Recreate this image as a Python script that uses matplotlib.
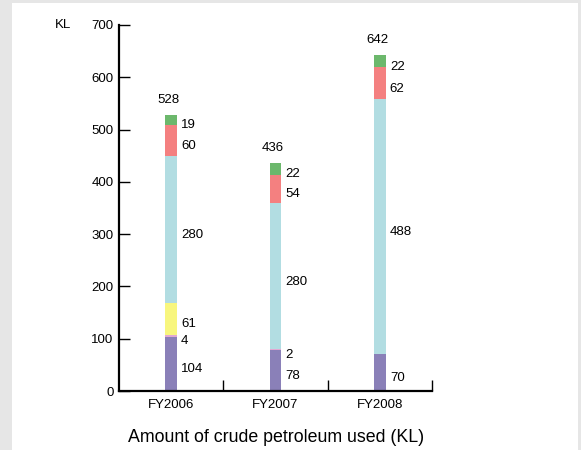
import numpy as np
import matplotlib.pyplot as plt
from matplotlib.patches import Rectangle

plt.rcParams['font.family'] = ['Liberation Sans', 'DejaVu Sans']

years = ['FY2006', 'FY2007', 'FY2008']
totals = [528, 436, 642]
# segments from bottom to top
seg_purple = [104, 78, 70]
seg_pink = [4, 2, 0]
seg_yellow = [61, 0, 0]
seg_blue = [280, 280, 488]
seg_red = [60, 54, 62]
seg_green = [19, 22, 22]

segments = [seg_purple, seg_pink, seg_yellow, seg_blue, seg_red, seg_green]
colors = ['#8a80b8', '#e2a9d3', '#f8f67e', '#b2dde2', '#f48080', '#6cb86c']

fs = 9.5

fig = plt.figure(figsize=(5.81, 4.5), dpi=100)
fig.patch.set_facecolor('#e6e6e6')

# white panel behind everything
bg = fig.add_axes([0, 0, 1, 1], zorder=-10)
bg.axis('off')
bg.add_patch(Rectangle((12/581, 0), (578-12)/581, 447/450,
                       transform=bg.transAxes, facecolor='white', edgecolor='none'))

ax = fig.add_axes([119/581, 59/450, (432-119)/581, (391-25)/450])
ax.set_facecolor('none')

x = np.arange(len(years)) + 0.5
w = 0.112
bottom = np.zeros(len(years))
for vals, c in zip(segments, colors):
    vals = np.array(vals, dtype=float)
    ax.bar(x, vals, w, bottom=bottom, color=c, edgecolor='none')
    for i, v in enumerate(vals):
        if v > 0:
            ax.annotate(str(int(v)), (x[i] + w/2, bottom[i] + v/2),
                        xytext=(3, -4), textcoords='offset points',
                        ha='left', va='center', fontsize=fs)
    bottom += vals

for i, t in enumerate(totals):
    ax.annotate(str(t), (x[i], t), xytext=(-2, 11), textcoords='offset points',
                ha='center', va='center', fontsize=fs)

ax.set_xlim(0, 3)
ax.set_ylim(0, 700)
ax.set_yticks(np.arange(0, 701, 100))
ax.set_xticks([1, 2, 3])
ax.set_xticklabels([])
ax.set_xticks(x, minor=True)
ax.set_xticklabels(years, minor=True, fontsize=fs)
ax.tick_params(axis='x', which='minor', length=0, pad=6)
ax.tick_params(axis='x', which='major', direction='in', length=8, width=1)
ax.tick_params(axis='y', direction='in', length=8, width=1, labelsize=fs, pad=4)
for s in ['top', 'right']:
    ax.spines[s].set_visible(False)
for s in ['left', 'bottom']:
    ax.spines[s].set_linewidth(1.6)

fig.text(55/581, (450-25)/450, 'KL', ha='left', va='center', fontsize=fs)
fig.text(276.5/581, (450-437)/450, 'Amount of crude petroleum used (KL)',
         ha='center', va='center', fontsize=12.8)

fig.savefig('out.png', dpi=100)
